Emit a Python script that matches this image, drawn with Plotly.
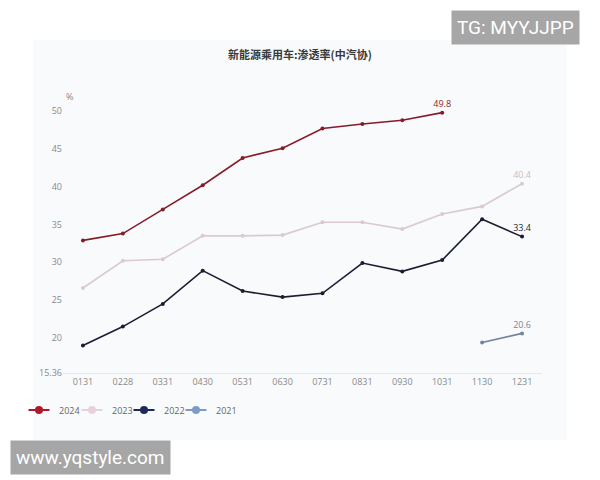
import plotly.graph_objects as go

months = ["0131", "0228", "0331", "0430", "0531", "0630",
          "0731", "0831", "0930", "1031", "1130", "1231"]

# penetration rate (%) by year
y2024 = [32.9, 33.8, 37.0, 40.2, 43.8, 45.1, 47.7, 48.3, 48.8, 49.8]
y2023 = [26.6, 30.2, 30.4, 33.5, 33.5, 33.6, 35.3, 35.3, 34.4, 36.4, 37.4, 40.4]
y2022 = [19.0, 21.5, 24.5, 28.9, 26.2, 25.4, 25.9, 29.9, 28.8, 30.3, 35.7, 33.4]
y2021 = [19.4, 20.6]
months_2021 = ["1130", "1231"]

ytick_vals = [15.36, 20, 25, 30, 35, 40, 45, 50]
ytick_text = ["15.36", "20", "25", "30", "35", "40", "45", "50"]

# name, x, y, line colour, label colour, legend colour
series = [
    ("2024", months[:len(y2024)], y2024, "#861c2a", "#8a2432", "#b0182a"),
    ("2023", months, y2023, "#dcc9d0", "#c8bcc2", "#e6d2dc"),
    ("2022", months, y2022, "#1b1e33", "#2a2a3a", "#1f2857"),
    ("2021", months_2021, y2021, "#74869a", "#7a8592", "#7c9cc8"),
]

# the page body adds an 8px offset, so margins are set relative to it
OFF = 8
legend_x = [39, 92, 144, 196]   # screen x of each legend dot

fig = go.Figure()
for name, xs, ys, color, tcolor, lcolor in series:
    labels = [""] * (len(ys) - 1) + [str(ys[-1])]
    fig.add_trace(go.Scatter(
        x=xs, y=ys, name=name, showlegend=False,
        mode="lines+markers+text",
        line=dict(color=color, width=1.6),
        marker=dict(color=color, size=4),
        text=labels, textposition="top center",
        textfont=dict(color=tcolor, size=9, family="Open Sans"),
        cliponaxis=False,
    ))

# legend: a short dash and a dot per year, each in its own small legend
legend_style = dict(orientation="h", xref="container", yref="container",
                    xanchor="left", yanchor="middle", y=1 - (410 - OFF) / 480,
                    font=dict(size=9, color="#666666", family="Open Sans"),
                    bgcolor="rgba(0,0,0,0)", itemwidth=30)
legends = {}
for i, ((name, xs, ys, color, tcolor, lcolor), lx) in enumerate(zip(series, legend_x)):
    dash_lg = "legend" if i == 0 else "legend%d" % (2 * i + 1)
    dot_lg = "legend%d" % (2 * i + 2)
    fig.add_trace(go.Scatter(
        x=[None], y=[None], name=name, mode="markers", legend=dash_lg,
        marker=dict(symbol="line-ew", size=15, color=lcolor,
                    line=dict(color=lcolor, width=2)),
    ))
    fig.add_trace(go.Scatter(
        x=[None], y=[None], name=name, mode="markers", legend=dot_lg,
        marker=dict(symbol="circle", size=8, color=lcolor),
    ))
    legends[dash_lg] = dict(legend_style, x=(lx - OFF - 20) / 600)
    legends[dot_lg] = dict(legend_style, x=(lx - OFF - 20) / 600,
                           font=dict(size=9, color="rgba(0,0,0,0)", family="Open Sans"))

# light panel behind the chart
fig.add_shape(type="rect", xref="paper", yref="paper",
              x0=-0.0626, x1=1.0522, y0=-0.242, y1=1.202,
              fillcolor="#f8fafc", line=dict(width=0), layer="below")

fig.update_layout(
    width=600, height=480,
    margin=dict(l=63 - OFF, r=600 - (542 - OFF), t=96 - OFF, b=480 - (373 - OFF),
                autoexpand=False),
    paper_bgcolor="white",
    plot_bgcolor="rgba(0,0,0,0)",
    title=dict(text="<b>新能源乘用车:渗透率(中汽协)</b>", x=(300 - OFF) / 600,
               xanchor="center", y=1 - (55 - OFF) / 480, yanchor="middle",
               font=dict(family="Noto Sans CJK SC", size=11, color="#3a3a3a")),
    xaxis=dict(type="category", categoryorder="array", categoryarray=months,
               range=[-0.5, len(months) - 0.5],
               showgrid=False, showline=True, linecolor="#e6e8ec", linewidth=1,
               ticks="", tickfont=dict(size=9, color="#8a8a8a", family="Open Sans")),
    yaxis=dict(range=[15.36, 52], tickvals=ytick_vals, ticktext=ytick_text,
               showgrid=False, zeroline=False, showline=False, ticks="",
               tickfont=dict(size=9, color="#8a8a8a", family="Open Sans")),
    showlegend=True,
    **legends,
)

fig.add_annotation(text="%", xref="paper", yref="paper", x=(64 - 63) / 479, y=1.0,
                   xanchor="left", yanchor="middle", showarrow=False,
                   font=dict(size=9, color="#8a8a8a", family="Open Sans"))

# watermarks
fig.add_annotation(text="TG: MYYJJPP", xref="paper", yref="paper",
                   x=(580 - 63) / 479, y=(373 - 10) / 277,
                   xanchor="right", yanchor="top", showarrow=False,
                   bgcolor="#a6a6a6", borderpad=5,
                   font=dict(size=19, color="white", family="Roboto"))
fig.add_annotation(text="www.yqstyle.com", xref="paper", yref="paper",
                   x=(10 - 63) / 479, y=(373 - 440) / 277,
                   xanchor="left", yanchor="top", showarrow=False,
                   bgcolor="#a6a6a6", borderpad=5,
                   font=dict(size=19, color="white", family="Roboto"))

fig.write_html("out.html")
